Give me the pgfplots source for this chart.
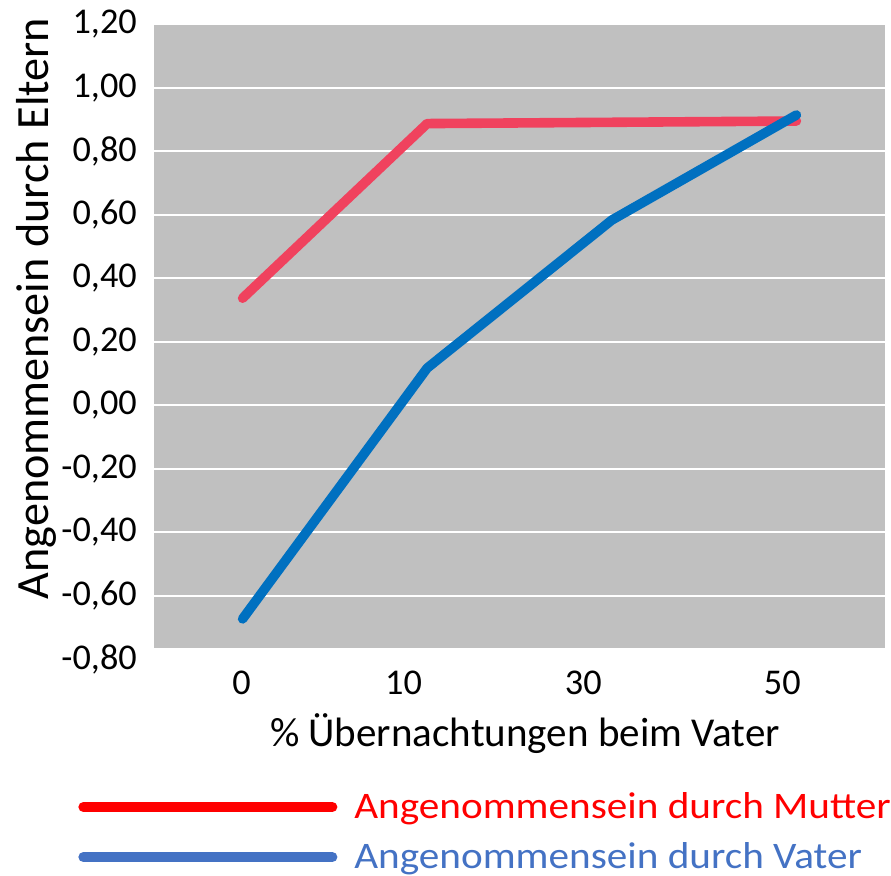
\documentclass[border=0pt]{standalone}
\usepackage{pgfplots}
\pgfplotsset{compat=1.18}
\usepackage{fontspec}
\setmainfont{Carlito}
\newfontfamily\legfont[FakeStretch=1.1]{Carlito}

\definecolor{mutterline}{RGB}{240,66,94}
\definecolor{vaterline}{RGB}{0,112,192}
\definecolor{legblue}{RGB}{68,114,196}
\definecolor{plotgray}{RGB}{192,192,192}

\begin{document}
\begin{tikzpicture}
  \begin{axis}[
    set layers,
    at={(0,0)}, anchor=south west,
    scale only axis,
    width=365.5bp, height=317.5bp,
    xmin=-0.48, xmax=3.48,
    ymin=-0.8, ymax=1.2,
    axis line style={draw=none},
    major tick length=0pt,
    xtick={-0.005,0.872,1.846,2.924},
    xticklabels={0,10,30,50},
    ytick={-0.8,-0.6,-0.4,-0.2,0,0.2,0.4,0.6,0.8,1.0,1.2},
    yticklabel style={
      /pgf/number format/.cd, use comma, fixed, fixed zerofill, precision=2,
      /pgf/number format/assume math mode=true,
      /tikz/.cd, font=\fontsize{18.2}{21}\selectfont, xshift=-5.1bp},
    xticklabel style={font=\fontsize{18.2}{21}\selectfont, yshift=-2.6bp},
    ymajorgrids=true,
    grid style={white, line width=1bp},
    xlabel={\% Übernachtungen beim Vater},
    xlabel style={font=\fontsize{20.6}{24}\selectfont,
      at={(axis description cs:0.5075,-0.1378)}, anchor=base},
    ylabel={Angenommensein durch Eltern},
    ylabel style={font=\fontsize{23.2}{27}\selectfont,
      at={(axis description cs:-0.1446,0.552)}, anchor=base},
    legend style={at={(axis description cs:-0.104,-0.203)}, anchor=north west,
      draw=none, fill=none, inner sep=0pt, row sep=6.6bp,
      /tikz/every odd column/.append style={column sep=6.5bp},
      font=\legfont\fontsize{18.8}{22}\selectfont},
    legend cell align=left,
    legend image code/.code={
      \draw[#1, line width=5bp, line cap=round] (2.5bp,0bp) -- (127bp,0bp);},
  ]
    \begin{pgfonlayer}{axis background}
      \fill[plotgray] (axis cs:-0.48,-0.765) rectangle (axis cs:3.48,1.2);
    \end{pgfonlayer}

    \addplot[mutterline, line width=4.8bp, line cap=round, line join=round, forget plot]
      coordinates {(0,0.337)(1,0.887)(2,0.891)(3,0.895)};
    \addplot[vaterline, line width=4.8bp, line cap=round, line join=round, forget plot]
      coordinates {(0,-0.673)(1,0.117)(2,0.583)(3,0.914)};

    \addlegendimage{red}
    \addlegendentry{\textcolor{red}{Angenommensein durch Mutter}}
    \addlegendimage{legblue}
    \addlegendentry{\textcolor{legblue}{Angenommensein durch Vater}}
  \end{axis}
  \pgfresetboundingbox
  \path[use as bounding box] (-77bp,-108.4bp) rectangle (368.5bp,329.6bp);
\end{tikzpicture}
\end{document}
